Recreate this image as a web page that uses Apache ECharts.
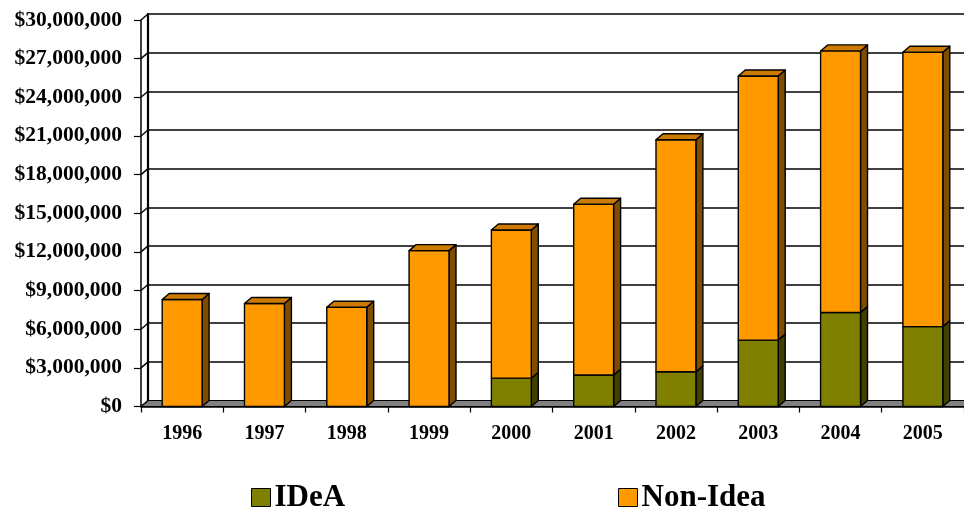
<!DOCTYPE html>
<html>
<head>
<meta charset="utf-8">
<script src="https://cdn.jsdelivr.net/npm/echarts@6/dist/echarts.min.js"></script>
<style>
  html, body { margin: 0; padding: 0; background: #fff; }
  #chart { width: 964px; height: 510px; }
</style>
</head>
<body>
<div id="chart"></div>
<script>
// Funding by year, split into IDeA and Non-Idea amounts (US dollars)
const years = ['1996', '1997', '1998', '1999', '2000', '2001', '2002', '2003', '2004', '2005'];
const ideaValues = [0, 0, 0, 0, 2200000, 2450000, 2700000, 5150000, 7300000, 6200000];
const nonIdeaValues = [8300000, 8000000, 7700000, 12100000, 11500000, 13250000, 18000000, 20500000, 20300000, 21300000];
const seriesNames = ['IDeA', 'Non-Idea'];
const yMin = 0, yMax = 30000000, yStep = 3000000;
const yTickValues = [0, 3000000, 6000000, 9000000, 12000000, 15000000, 18000000, 21000000, 24000000, 27000000, 30000000];

// 3D look: depth offset of the back faces
const DX = 7, DY = 6;
const FONT = 'Liberation Serif';

const palette = {
  idea: { front: '#808000', top: '#666600', side: '#404000' },
  non: { front: '#FF9900', top: '#CC7A00', side: '#7F4C00' }
};

function money(v) {
  return '$' + Math.round(v).toString().replace(/\B(?=(\d{3})+(?!\d))/g, ',');
}

// one extruded box from base to base+value at category idx
function box(api, idx, base, value, colors, withTop) {
  if (!value) return null;
  const pb = api.coord([idx, base]);
  const pt = api.coord([idx, base + value]);
  const w = api.size([1, 0])[0] * 0.485;
  const x0 = pb[0] - w / 2, x1 = x0 + w, yb = pb[1], yt = pt[1];
  const stroke = { stroke: '#000', lineWidth: 1.4, lineJoin: 'round' };
  const kids = [
    { type: 'polygon', shape: { points: [[x1, yb], [x1 + DX, yb - DY], [x1 + DX, yt - DY], [x1, yt]] },
      style: Object.assign({ fill: colors.side }, stroke) },
    { type: 'rect', shape: { x: x0, y: yt, width: w, height: yb - yt },
      style: Object.assign({ fill: colors.front }, stroke) }
  ];
  if (withTop) {
    kids.push({ type: 'polygon', shape: { points: [[x0, yt], [x1, yt], [x1 + DX, yt - DY], [x0 + DX, yt - DY]] },
      style: Object.assign({ fill: colors.top }, stroke) });
  }
  return { type: 'group', children: kids };
}

const ideaData = years.map((y, i) => [i, 0, ideaValues[i]]);
const nonData = years.map((y, i) => [i, ideaValues[i], nonIdeaValues[i]]);

const chart = echarts.init(document.getElementById('chart'), null, { renderer: 'canvas' });

const legendText = { color: '#000', fontFamily: FONT, fontWeight: 'bold', fontSize: 31, padding: [0, 0, 0, -1] };

const option = {
  animation: false,
  backgroundColor: '#fff',
  grid: [
    // front plane: axis line, ticks, labels and the bars
    { left: 141, top: 20, width: 824, height: 386.5 },
    // back wall: gridlines
    { left: 141 + DX, top: 20 - DY, width: 824, height: 386.5 }
  ],
  xAxis: [
    {
      gridIndex: 0, type: 'category', data: years, boundaryGap: true,
      axisLine: { show: true, lineStyle: { color: '#000', width: 1.5 } },
      axisTick: { show: true, length: 6, lineStyle: { color: '#000', width: 1.2 } },
      axisLabel: { color: '#000', fontFamily: FONT, fontWeight: 'bold', fontSize: 20, margin: 17 },
      splitLine: { show: false }
    },
    {
      gridIndex: 1, type: 'category', data: years, boundaryGap: true,
      axisLine: { show: false }, axisTick: { show: false }, axisLabel: { show: false },
      splitLine: { show: false }
    }
  ],
  yAxis: [
    {
      gridIndex: 0, type: 'value', min: yMin, max: yMax, interval: yStep,
      axisLine: { show: true, lineStyle: { color: '#000', width: 1.5 } },
      axisTick: { show: true, length: 7, lineStyle: { color: '#000', width: 1.2 } },
      axisLabel: { color: '#000', fontFamily: FONT, fontWeight: 'bold', fontSize: 21.5, margin: 19, formatter: money },
      splitLine: { show: false }
    },
    {
      gridIndex: 1, type: 'value', min: yMin, max: yMax, interval: yStep,
      axisLine: { show: true, lineStyle: { color: '#000', width: 2.2 } },
      axisTick: { show: false }, axisLabel: { show: false },
      splitLine: { show: true, lineStyle: { color: '#000', width: 1.5 } }
    }
  ],
  legend: [
    {
      data: [{ name: 'IDeA', icon: 'rect', itemStyle: { color: palette.idea.front, borderColor: '#000', borderWidth: 1 } }],
      left: 251, top: 482, itemWidth: 19, itemHeight: 18, itemGap: 0, padding: 0,
      textStyle: legendText, selectedMode: false
    },
    {
      data: [{ name: 'Non-Idea', icon: 'rect', itemStyle: { color: palette.non.front, borderColor: '#000', borderWidth: 1 } }],
      left: 618, top: 482, itemWidth: 19, itemHeight: 18, itemGap: 0, padding: 0,
      textStyle: legendText, selectedMode: false
    }
  ],
  series: [
    {
      // floor slab under the bars
      type: 'custom', xAxisIndex: 0, yAxisIndex: 0, silent: true, z: 1,
      data: [[0, 0]],
      renderItem: function (params, api) {
        const cs = params.coordSys;
        const y0 = api.coord([0, 0])[1];
        return {
          type: 'polygon',
          shape: { points: [[cs.x, y0], [cs.x + cs.width, y0], [cs.x + cs.width + DX, y0 - DY], [cs.x + DX, y0 - DY]] },
          style: { fill: '#808080', stroke: '#000', lineWidth: 1 }
        };
      }
    },
    {
      // short connectors from the front ticks to the back wall gridlines
      type: 'custom', xAxisIndex: 0, yAxisIndex: 0, silent: true, z: 1,
      data: yTickValues.map(v => [0, v]),
      renderItem: function (params, api) {
        const cs = params.coordSys;
        const y = api.coord([0, api.value(1)])[1];
        return {
          type: 'line',
          shape: { x1: cs.x, y1: y, x2: cs.x + DX, y2: y - DY },
          style: { stroke: '#000', lineWidth: 1.4 }
        };
      }
    },
    {
      name: seriesNames[0], type: 'custom', xAxisIndex: 0, yAxisIndex: 0, z: 3,
      itemStyle: { color: palette.idea.front },
      encode: { x: 0, y: 2 },
      data: ideaData,
      renderItem: function (params, api) {
        const i = api.value(0);
        return box(api, i, api.value(1), api.value(2), palette.idea, !nonIdeaValues[i]);
      }
    },
    {
      name: seriesNames[1], type: 'custom', xAxisIndex: 0, yAxisIndex: 0, z: 4,
      itemStyle: { color: palette.non.front },
      encode: { x: 0, y: 2 },
      data: nonData,
      renderItem: function (params, api) {
        const i = api.value(0);
        return box(api, i, api.value(1), api.value(2), palette.non, true);
      }
    }
  ]
};

chart.setOption(option);
</script>
</body>
</html>
